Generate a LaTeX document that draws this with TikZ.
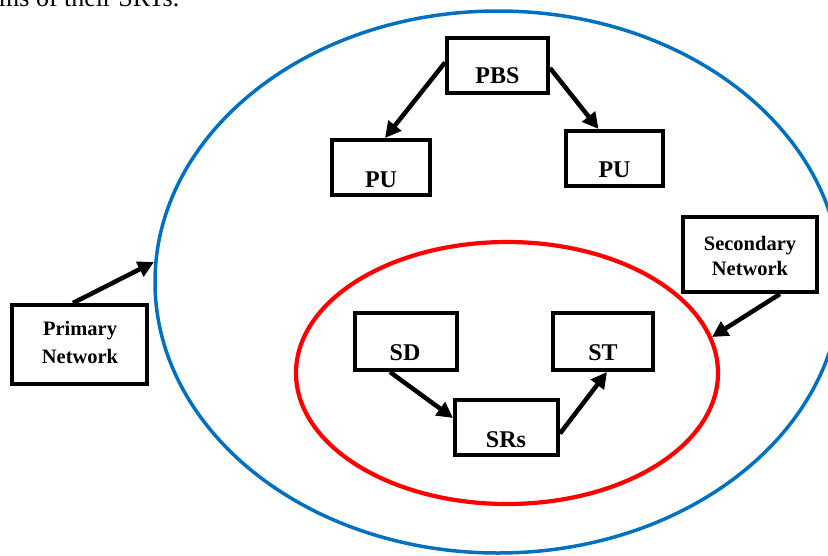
\documentclass[tikz,border=0pt]{standalone}
\usepackage{fontspec}
\setmainfont{Liberation Serif}
\usetikzlibrary{arrows.meta}

\definecolor{netblue}{RGB}{0,112,192}
\definecolor{netred}{RGB}{255,0,0}

\tikzset{
  box/.style={draw=black, line width=4pt, fill=white, inner sep=0pt},
  lbl/.style={anchor=base, inner sep=0pt, font=\fontsize{24}{28}\selectfont\bfseries},
  netlbl/.style={anchor=base, inner sep=0pt, font=\fontsize{20.5}{24}\selectfont\bfseries},
  link/.style={draw=black, line width=4.5pt, -{Triangle[length=16pt,width=16pt]}},
}

\begin{document}
\begin{tikzpicture}[x=1pt, y=-1pt]
\useasboundingbox (0,0) rectangle (828,555);

% running text of the page above the figure
\node[anchor=base west, inner sep=0pt, font=\fontsize{26}{30}\selectfont] (caption) at (-1,6) {ms of their SRTs.};

% network boundaries
\draw[netblue, line width=3.5pt] (498,282) ellipse [x radius=343pt, y radius=271pt];
\draw[netred, line width=4.2pt] (507,373) ellipse [x radius=211pt, y radius=131pt];

% primary network
\node[box, minimum width=101pt, minimum height=55pt] (pbs) at (497.5,65.5) {};
\node[lbl] (pbstext) at (497.5,83) {PBS};
\node[box, minimum width=98pt, minimum height=55pt] (pul) at (381,167.5) {};
\node[lbl] (pultext) at (381,187) {PU};
\node[box, minimum width=97pt, minimum height=55pt] (pur) at (614.5,158.5) {};
\node[lbl] (purtext) at (614.5,177) {PU};

% secondary network
\node[box, minimum width=102pt, minimum height=57pt] (sd) at (406,341.5) {};
\node[lbl] (sdtext) at (405,360) {SD};
\node[box, minimum width=100pt, minimum height=57pt] (st) at (602.5,341.5) {};
\node[lbl] (sttext) at (603,360) {ST};
\node[box, minimum width=103pt, minimum height=55pt] (srs) at (506.5,427.5) {};
\node[lbl] (srstext) at (506,447) {SRs};

% legend boxes
\node[box, minimum width=135pt, minimum height=79pt] (primary) at (79.5,344.5) {};
\node[netlbl] (primarya) at (80,335) {Primary};
\node[netlbl] (primaryb) at (80,363) {Network};
\node[box, minimum width=134pt, minimum height=75pt] (secondary) at (750,254.5) {};
\node[netlbl] (secondarya) at (750,250) {Secondary};
\node[netlbl] (secondaryb) at (750,275) {Network};

\coordinate (bluerim) at (154,262);
\coordinate (redrim) at (712,337);

% links
\draw[link] ([yshift=3pt]pbs.west) -- ([xshift=4pt]pul.north);
\draw[link] ([yshift=-2.5pt]pbs.east) -- ([xshift=-16pt]pur.north);
\draw[link] ([xshift=-16pt]sd.south) -- ([yshift=9.5pt]srs.west);
\draw[link] ([yshift=-6pt]srs.east) -- ([xshift=4.5pt]st.south);
\draw[link] ([xshift=-6.5pt]primary.north) -- (bluerim);
\draw[link] ([xshift=30pt]secondary.south) -- (redrim);
\end{tikzpicture}
\end{document}
